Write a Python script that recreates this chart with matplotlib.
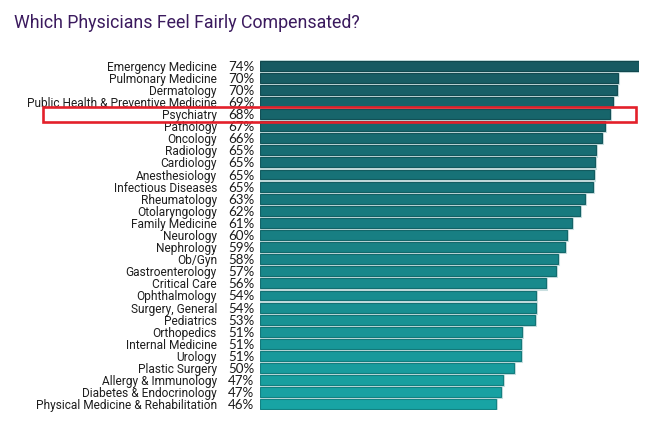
import numpy as np
import matplotlib.pyplot as plt
import matplotlib.patches as patches
from matplotlib.colors import to_rgb

# 数据
specialties = [
    "Emergency Medicine", "Pulmonary Medicine", "Dermatology",
    "Public Health & Preventive Medicine", "Psychiatry", "Pathology",
    "Oncology", "Radiology", "Cardiology", "Anesthesiology",
    "Infectious Diseases", "Rheumatology", "Otolaryngology",
    "Family Medicine", "Neurology", "Nephrology", "Ob/Gyn",
    "Gastroenterology", "Critical Care", "Ophthalmology",
    "Surgery, General", "Pediatrics", "Orthopedics", "Internal Medicine",
    "Urology", "Plastic Surgery", "Allergy & Immunology",
    "Diabetes & Endocrinology", "Physical Medicine & Rehabilitation",
]
pct = [74, 70, 70, 69, 68, 67, 66, 65, 65, 65, 65, 63, 62, 61, 60, 59, 58,
       57, 56, 54, 54, 53, 51, 51, 51, 50, 47, 47, 46]
# 条形实际长度（同样百分比的条形略有差别）
bar_len = [74, 69.8, 69.7, 68.8, 68.3, 67.4, 66.7, 65.6, 65.3, 65.2, 65.0,
           63.4, 62.5, 60.8, 59.9, 59.5, 58.2, 57.8, 55.8, 53.9, 53.8, 53.7,
           51.2, 51.0, 50.9, 49.6, 47.4, 47.1, 46.0]
highlight = "Psychiatry"

W, H = 650, 442
fig = plt.figure(figsize=(W / 100, H / 100), dpi=100)

n = len(specialties)
pitch = (404.3 - 65.7) / (n - 1)
top_px = 65.7 - pitch / 2
bot_px = 404.3 + pitch / 2
left_px, right_px = 260, 639.3

ax = fig.add_axes([left_px / W, 1 - bot_px / H,
                   (right_px - left_px) / W, (bot_px - top_px) / H])

# 颜色渐变：上深下浅
c_top = np.array(to_rgb("#175a62"))
c_bot = np.array(to_rgb("#18a4a4"))
t = np.linspace(0, 1, n)
colors = [tuple(c_top + (c_bot - c_top) * v) for v in t]
edges = [tuple(np.clip((c_top + (c_bot - c_top) * v) * 0.8, 0, 1)) for v in t]

y = np.arange(n)
# 浅色外框 + 深色内框
ax.barh(y, bar_len, height=0.86, color="none", edgecolor="#c9dfe0",
        linewidth=2.2)
ax.barh(y, bar_len, height=0.82, color=colors, edgecolor=edges,
        linewidth=0.8)
ax.set_xlim(0, 74)
ax.set_ylim(n - 0.5, -0.5)

ax.set_yticks(y)
ax.set_yticklabels(specialties, fontfamily="Roboto", fontsize=8.6,
                   color="#1e1e1e")
ax.tick_params(axis="y", length=0, pad=31)
ax.set_xticks([])
for s in ax.spines.values():
    s.set_visible(False)

# 百分比标签
for i, v in enumerate(pct):
    ax.annotate(f"{v}%", xy=(0, i), xytext=(-32, -1),
                textcoords="offset pixels", ha="left", va="center",
                fontfamily="Lato", fontsize=9.6, color="#1a1a1a")

# 标题
fig.text(14 / W, 1 - 28 / H, "Which Physicians Feel Fairly Compensated?",
         fontfamily="Roboto", fontsize=12.8, color="#3b1a5e",
         va="baseline", ha="left")

# 红框突出 Psychiatry
hi = specialties.index(highlight)
yc = top_px + pitch * (hi + 0.5)
rect = patches.Rectangle((43 / W, 1 - (yc + 7.5) / H), (636 - 43) / W,
                         15 / H, transform=fig.transFigure, fill=False,
                         edgecolor="#e3202a", linewidth=1.9)
fig.add_artist(rect)

fig.savefig("out.png", dpi=100)
